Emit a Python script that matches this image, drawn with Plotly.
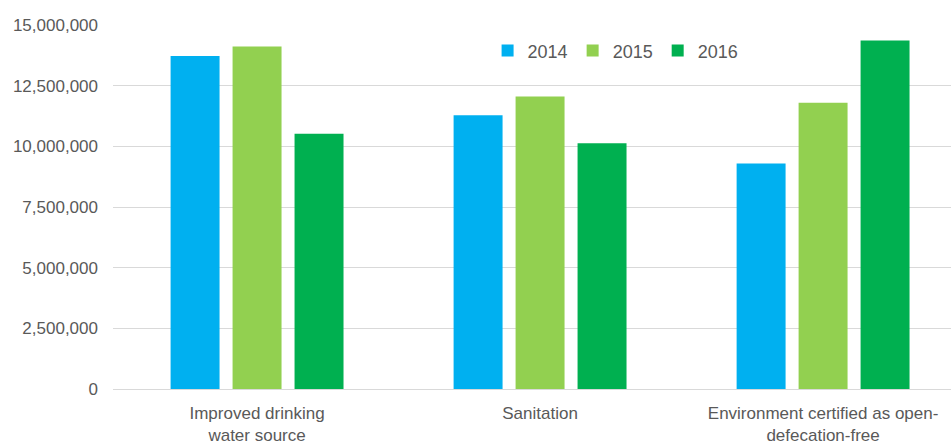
import plotly.graph_objects as go

categories = ["Improved drinking<br>water source", "Sanitation", "Environment certified as open-<br>defecation-free"]
years = ["2014", "2015", "2016"]
values_2014 = [13720000, 11280000, 9290000]
values_2015 = [14110000, 12050000, 11800000]
values_2016 = [10520000, 10130000, 14360000]
colors = ["#00B0F0", "#92D050", "#00B050"]
y_ticks = [0, 2500000, 5000000, 7500000, 10000000, 12500000, 15000000]

series = [values_2014, values_2015, values_2016]

fig = go.Figure()
for name, vals, col in zip(years, series, colors):
    fig.add_trace(go.Bar(
        name=name,
        x=list(range(len(categories))),
        y=vals,
        marker=dict(color=col, line=dict(width=0)),
    ))

fig.update_layout(
    width=951, height=444,
    margin=dict(l=113, r=0, t=25, b=55),
    paper_bgcolor="white",
    plot_bgcolor="white",
    barmode="group",
    bargap=0.343,
    bargroupgap=0.21,
    font=dict(family="Liberation Sans, Arial, sans-serif", color="#595959"),
    showlegend=True,
    legend=dict(
        orientation="h",
        x=0.447, xanchor="left",
        y=0.929, yanchor="middle",
        font=dict(size=18, color="#595959"),
        itemwidth=30,
        bgcolor="rgba(0,0,0,0)",
        traceorder="normal",
    ),
    xaxis=dict(
        tickmode="array",
        tickvals=list(range(len(categories))),
        ticktext=categories,
        range=[-0.509, 2.452],
        showgrid=False,
        showline=False,
        zeroline=False,
        ticks="",
        tickfont=dict(size=17, color="#595959"),
        ticklabelstandoff=12,
    ),
    yaxis=dict(
        range=[0, 15000000],
        tickmode="array",
        tickvals=y_ticks,
        ticktext=[f"{v:,}" for v in y_ticks],
        showgrid=True,
        gridcolor="#D9D9D9",
        gridwidth=1,
        zeroline=True,
        zerolinecolor="#D9D9D9",
        zerolinewidth=1,
        showline=False,
        ticks="",
        tickfont=dict(size=17, color="#595959"),
        ticklabelstandoff=14,
    ),
)

fig.write_html(
    "out.html",
    config={"displayModeBar": False},
    post_script="document.body.style.margin='0';document.body.style.overflow='hidden';",
)
